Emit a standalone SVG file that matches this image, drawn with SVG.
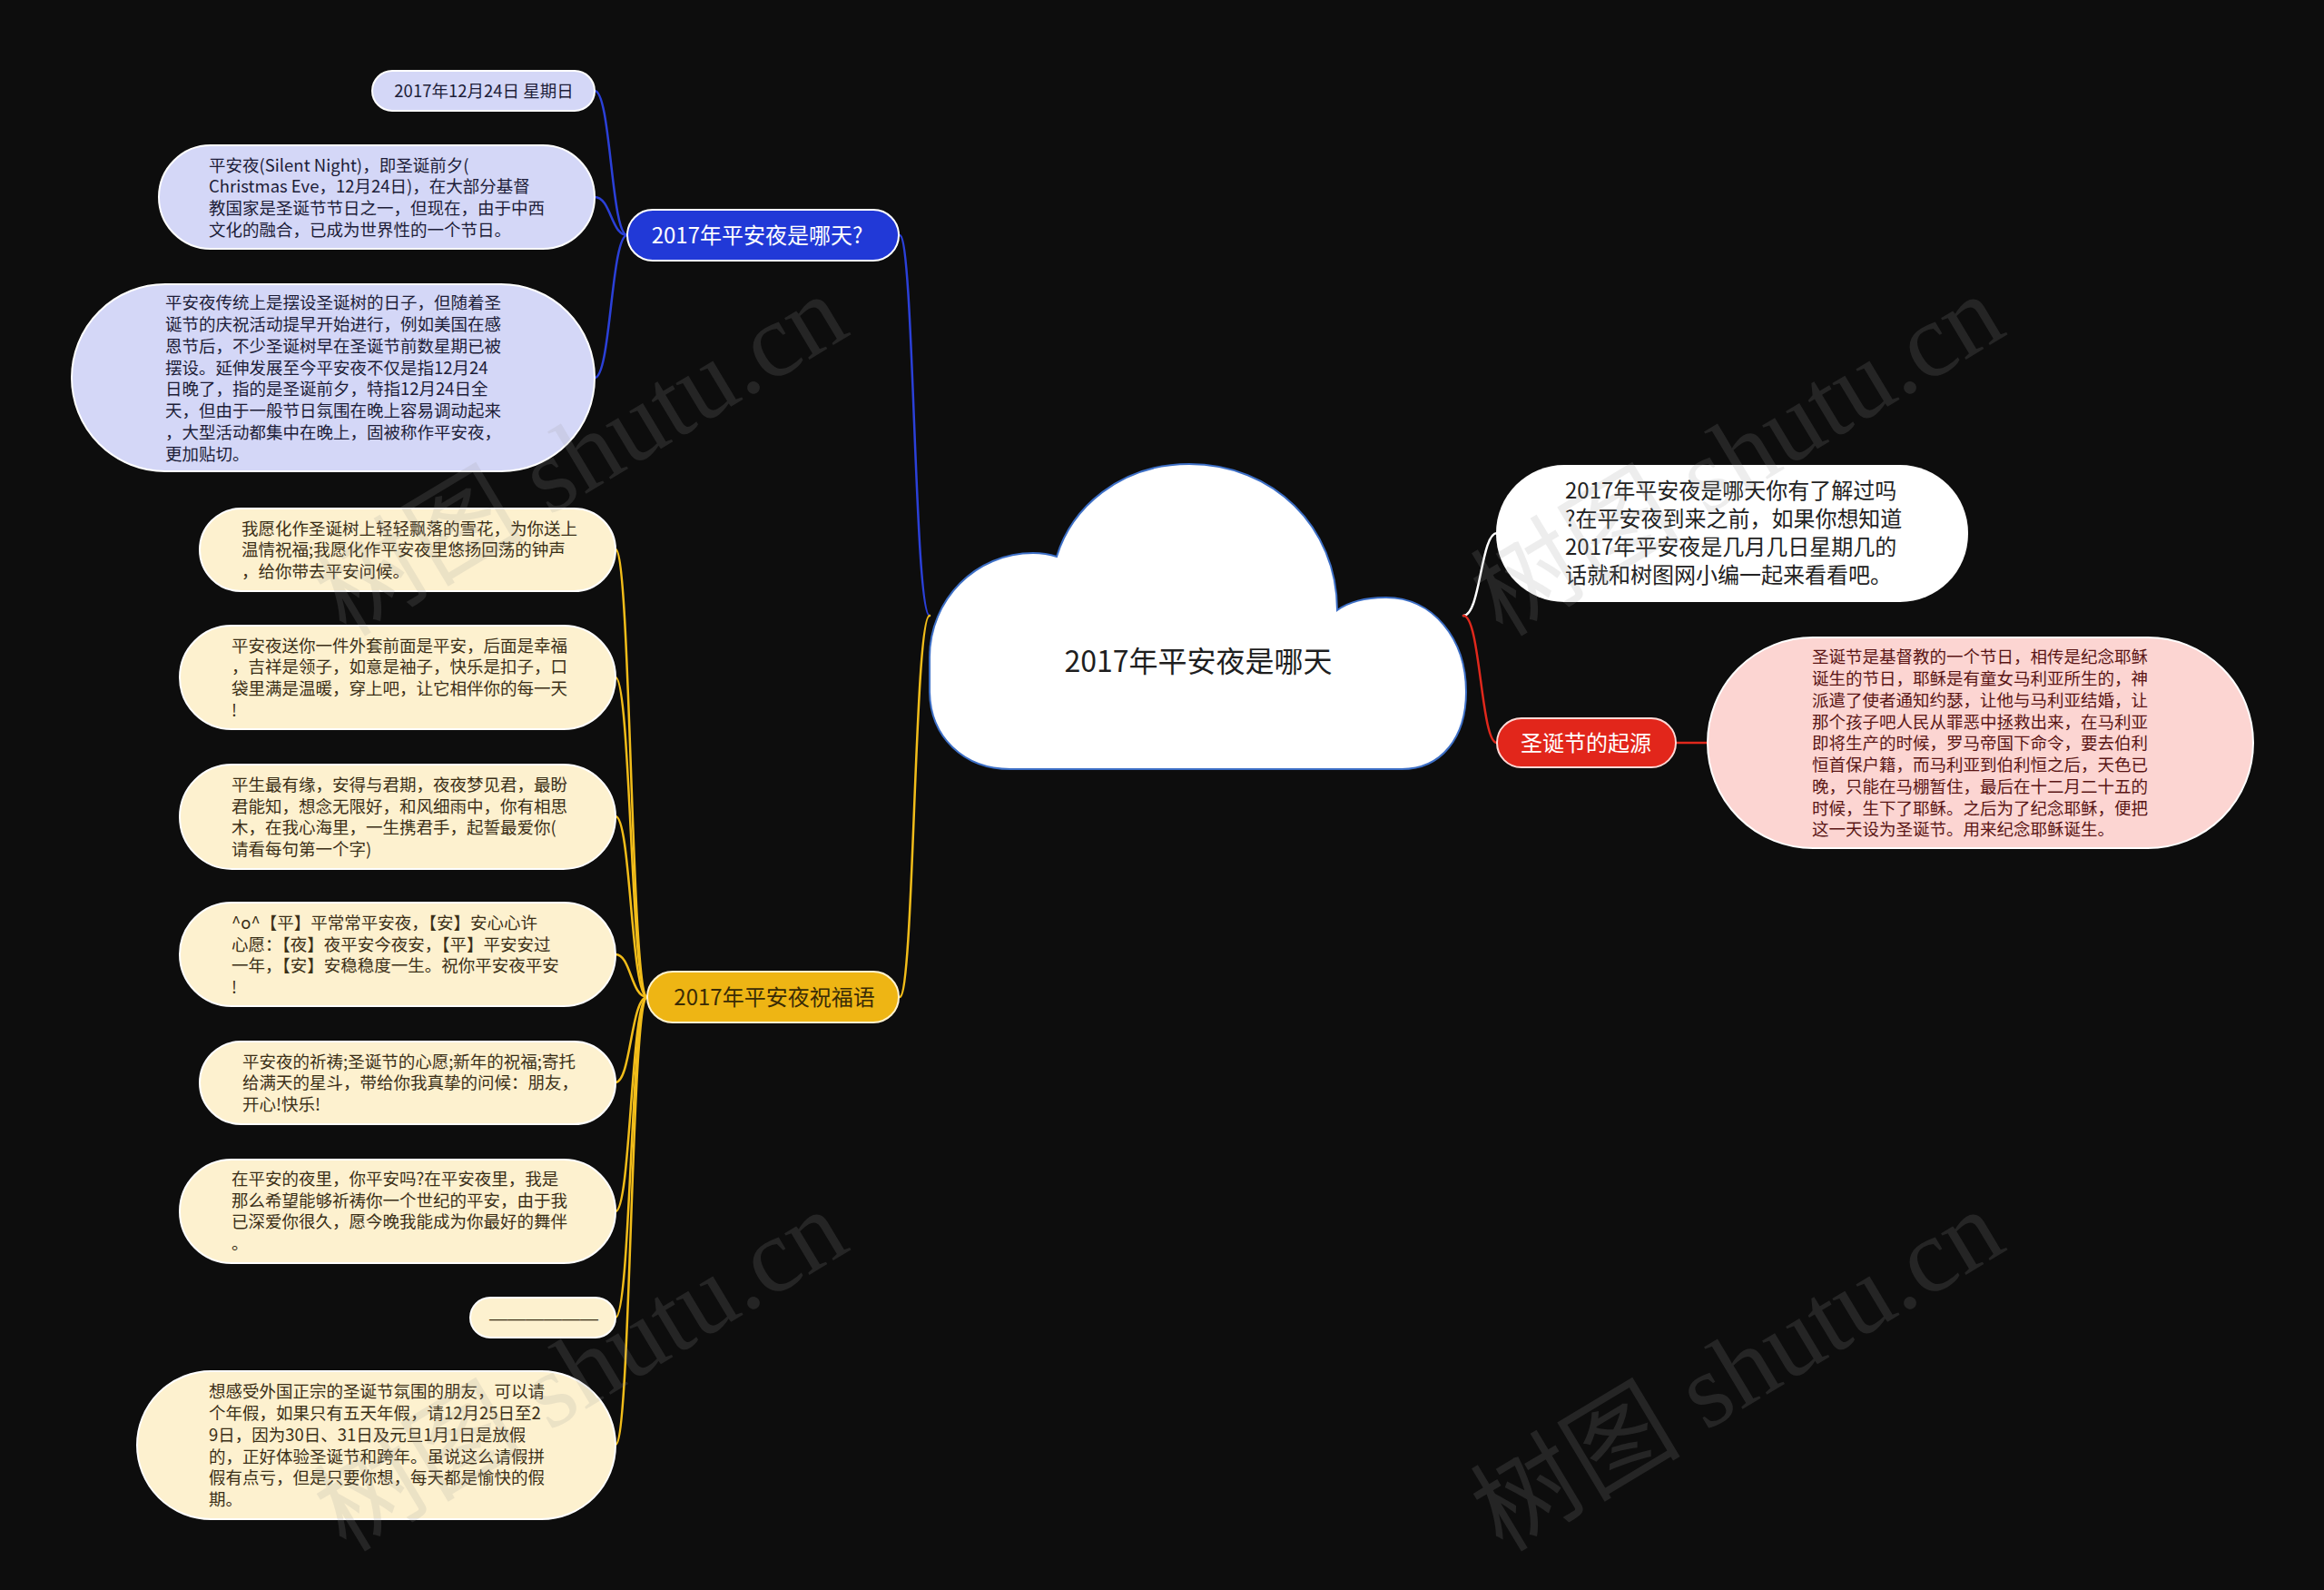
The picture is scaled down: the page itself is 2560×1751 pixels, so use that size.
<svg xmlns="http://www.w3.org/2000/svg" width="2560" height="1751" viewBox="0 0 2560 1751">
<style>
text{font-family:"Noto Sans CJK SC","Noto Sans",sans-serif;}
.s{font-size:18.5px;}
.dash{font-family:"Liberation Sans",sans-serif;}
.conn{fill:none;stroke-width:2.5;stroke-linecap:round;}
.cb{stroke:#2b40d8;}
.cy{stroke:#f2bd1a;}
.cw{stroke:#ffffff;}
.cr{stroke:#e0281c;}
.lav{fill:#d4d7f7;stroke:#ffffff;stroke-width:2;}
.lavt{fill:#1d1d38;}
.crm{fill:#fdf1cf;stroke:#ffffff;stroke-width:2;}
.crmt{fill:#3b2f17;}
.wm{font-family:"Liberation Serif","Noto Sans CJK SC",serif;font-size:116px;fill:#9a9a9a;opacity:0.17;}
</style>
<rect x="0" y="0" width="2560" height="1751" fill="#0d0d0d"/>

<g id="connectors">
<path class="conn cb" d="M1024,678 C1007,678 1007,259 991,259"/>
<path class="conn cy" d="M1024,678 C1007,678 1007,1098 991,1098"/>
<path class="conn cb" d="M691,259 C673,259 673,100 655,100"/>
<path class="conn cb" d="M691,259 C673,259 673,217 655,217"/>
<path class="conn cb" d="M691,259 C673,259 673,416 655,416"/>
<path class="conn cy" d="M713,1098 C695,1098 695,605 678,605"/>
<path class="conn cy" d="M713,1098 C695,1098 695,746 678,746"/>
<path class="conn cy" d="M713,1098 C695,1098 695,899 678,899"/>
<path class="conn cy" d="M713,1098 C695,1098 695,1051 678,1051"/>
<path class="conn cy" d="M713,1098 C695,1098 695,1192 678,1192"/>
<path class="conn cy" d="M713,1098 C695,1098 695,1334 678,1334"/>
<path class="conn cy" d="M713,1098 C695,1098 695,1451 678,1451"/>
<path class="conn cy" d="M713,1098 C695,1098 695,1591 678,1591"/>
<path class="conn cw" d="M1612,678 C1631,678 1631,587 1649,587"/>
<path class="conn cr" d="M1612,678 C1631,678 1631,818 1649,818"/>
<path class="conn cr" d="M1847,818 L1881,818"/>
</g>

<g id="root">
<path d="M1113,847 L1544,847 C1588,847 1615,812 1615,762 C1615,703 1578,658 1527,658 C1502,658 1484,664 1473,672 C1473,580 1402,511 1310,511 C1233,511 1180,560 1164,613 C1155,610 1146,609 1138,609 C1075,609 1024,660 1024,724 L1024,760 C1024,812 1062,847 1113,847 Z" fill="#ffffff" stroke="#3d6fc6" stroke-width="2"/>
<text x="1320" y="740" font-size="32" fill="#1e1e1e" text-anchor="middle">2017年平安夜是哪天</text>
</g>

<g id="main-blue">
<rect x="691" y="231" width="299" height="56" rx="28" fill="#2139d7" stroke="#ffffff" stroke-width="2"/>
<text x="834" y="268" font-size="24" fill="#ffffff" text-anchor="middle">2017年平安夜是哪天?</text>
</g>

<g id="main-yellow">
<rect x="713" y="1070" width="277" height="56" rx="28" fill="#eeb514" stroke="#fff3cf" stroke-width="2"/>
<text x="853" y="1107" font-size="24" fill="#3a2c06" text-anchor="middle">2017年平安夜祝福语</text>
</g>

<g id="main-red">
<rect x="1649" y="791" width="197" height="54" rx="27" fill="#e2261b" stroke="#ffd9d6" stroke-width="2"/>
<text x="1747" y="827" font-size="24" fill="#ffffff" text-anchor="middle">圣诞节的起源</text>
</g>

<g id="intro">
<rect x="1648" y="512" width="520" height="151" rx="75" fill="#ffffff"/>
<text x="1724" font-size="24" fill="#222222">
<tspan x="1724" y="549">2017年平安夜是哪天你有了解过吗</tspan>
<tspan x="1724" y="580">?在平安夜到来之前，如果你想知道</tspan>
<tspan x="1724" y="611">2017年平安夜是几月几日星期几的</tspan>
<tspan x="1724" y="642">话就和树图网小编一起来看看吧。</tspan>
</text>
</g>

<g id="origin-detail">
<rect x="1881" y="702" width="601" height="232" rx="116" fill="#fcd5d2" stroke="#ffffff" stroke-width="2"/>
<text class="s" fill="#5a1515">
<tspan x="1996" y="730">圣诞节是基督教的一个节日，相传是纪念耶稣</tspan>
<tspan x="1996" y="754">诞生的节日，耶稣是有童女马利亚所生的，神</tspan>
<tspan x="1996" y="778">派遣了使者通知约瑟，让他与马利亚结婚，让</tspan>
<tspan x="1996" y="802">那个孩子吧人民从罪恶中拯救出来，在马利亚</tspan>
<tspan x="1996" y="825">即将生产的时候，罗马帝国下命令，要去伯利</tspan>
<tspan x="1996" y="849">恒首保户籍，而马利亚到伯利恒之后，天色已</tspan>
<tspan x="1996" y="873">晚，只能在马棚暂住，最后在十二月二十五的</tspan>
<tspan x="1996" y="897">时候，生下了耶稣。之后为了纪念耶稣，便把</tspan>
<tspan x="1996" y="920">这一天设为圣诞节。用来纪念耶稣诞生。</tspan>
</text>
</g>

<g id="b1">
<rect class="lav" x="410" y="78" width="245" height="44" rx="22"/>
<text class="s lavt" x="533" y="107" text-anchor="middle">2017年12月24日 星期日</text>
</g>

<g id="b2">
<rect class="lav" x="175" y="160" width="480" height="114" rx="57"/>
<text class="s lavt">
<tspan x="230" y="189">平安夜(Silent Night)，即圣诞前夕(</tspan>
<tspan x="230" y="212">Christmas Eve，12月24日)，在大部分基督</tspan>
<tspan x="230" y="236">教国家是圣诞节节日之一，但现在，由于中西</tspan>
<tspan x="230" y="260">文化的融合，已成为世界性的一个节日。</tspan>
</text>
</g>

<g id="b3">
<rect class="lav" x="79" y="313" width="576" height="206" rx="103"/>
<text class="s lavt">
<tspan x="182" y="340">平安夜传统上是摆设圣诞树的日子，但随着圣</tspan>
<tspan x="182" y="364">诞节的庆祝活动提早开始进行，例如美国在感</tspan>
<tspan x="182" y="388">恩节后，不少圣诞树早在圣诞节前数星期已被</tspan>
<tspan x="182" y="412">摆设。延伸发展至今平安夜不仅是指12月24</tspan>
<tspan x="182" y="435">日晚了，指的是圣诞前夕，特指12月24日全</tspan>
<tspan x="182" y="459">天，但由于一般节日氛围在晚上容易调动起来</tspan>
<tspan x="182" y="483">，大型活动都集中在晚上，固被称作平安夜，</tspan>
<tspan x="182" y="507">更加贴切。</tspan>
</text>
</g>

<g id="y1">
<rect class="crm" x="220" y="560" width="458" height="91" rx="45.5"/>
<text class="s crmt">
<tspan x="266" y="589">我愿化作圣诞树上轻轻飘落的雪花，为你送上</tspan>
<tspan x="266" y="612">温情祝福;我愿化作平安夜里悠扬回荡的钟声</tspan>
<tspan x="266" y="636">，给你带去平安问候。</tspan>
</text>
</g>

<g id="y2">
<rect class="crm" x="198" y="689" width="480" height="114" rx="57"/>
<text class="s crmt">
<tspan x="255" y="718">平安夜送你一件外套前面是平安，后面是幸福</tspan>
<tspan x="255" y="741">，吉祥是领子，如意是袖子，快乐是扣子，口</tspan>
<tspan x="255" y="765">袋里满是温暖，穿上吧，让它相伴你的每一天</tspan>
<tspan x="255" y="789">!</tspan>
</text>
</g>

<g id="y3">
<rect class="crm" x="198" y="842" width="480" height="115" rx="57.5"/>
<text class="s crmt">
<tspan x="255" y="871">平生最有缘，安得与君期，夜夜梦见君，最盼</tspan>
<tspan x="255" y="895">君能知，想念无限好，和风细雨中，你有相思</tspan>
<tspan x="255" y="918">木，在我心海里，一生携君手，起誓最爱你(</tspan>
<tspan x="255" y="942">请看每句第一个字)</tspan>
</text>
</g>

<g id="y4">
<rect class="crm" x="198" y="994" width="480" height="114" rx="57"/>
<text class="s crmt">
<tspan x="255" y="1023">^o^【平】平常常平安夜，【安】安心心许</tspan>
<tspan x="255" y="1047">心愿：【夜】夜平安今夜安，【平】平安安过</tspan>
<tspan x="255" y="1070">一年，【安】安稳稳度一生。祝你平安夜平安</tspan>
<tspan x="255" y="1094">!</tspan>
</text>
</g>

<g id="y5">
<rect class="crm" x="220" y="1147" width="458" height="91" rx="45.5"/>
<text class="s crmt">
<tspan x="267" y="1176">平安夜的祈祷;圣诞节的心愿;新年的祝福;寄托</tspan>
<tspan x="267" y="1199">给满天的星斗，带给你我真挚的问候：朋友，</tspan>
<tspan x="267" y="1223">开心!快乐!</tspan>
</text>
</g>

<g id="y6">
<rect class="crm" x="198" y="1277" width="480" height="114" rx="57"/>
<text class="s crmt">
<tspan x="255" y="1305">在平安的夜里，你平安吗?在平安夜里，我是</tspan>
<tspan x="255" y="1329">那么希望能够祈祷你一个世纪的平安，由于我</tspan>
<tspan x="255" y="1352">已深爱你很久，愿今晚我能成为你最好的舞伴</tspan>
<tspan x="255" y="1376">。</tspan>
</text>
</g>

<g id="y7">
<rect class="crm" x="518" y="1429" width="160" height="44" rx="22"/>
<text class="s crmt dash" x="539" y="1458" textLength="120" lengthAdjust="spacingAndGlyphs">——————</text>
</g>

<g id="y8">
<rect class="crm" x="151" y="1510" width="527" height="163" rx="81.5"/>
<text class="s crmt">
<tspan x="230" y="1539">想感受外国正宗的圣诞节氛围的朋友，可以请</tspan>
<tspan x="230" y="1563">个年假，如果只有五天年假，请12月25日至2</tspan>
<tspan x="230" y="1587">9日，因为30日、31日及元旦1月1日是放假</tspan>
<tspan x="230" y="1611">的，正好体验圣诞节和跨年。虽说这么请假拼</tspan>
<tspan x="230" y="1634">假有点亏，但是只要你想，每天都是愉快的假</tspan>
<tspan x="230" y="1658">期。</tspan>
</text>
</g>

<g id="watermarks">
<text class="wm" text-anchor="middle" transform="translate(660,535) rotate(-31)">树图 shutu.cn</text>
<text class="wm" text-anchor="middle" transform="translate(1934,535) rotate(-31)">树图 shutu.cn</text>
<text class="wm" text-anchor="middle" transform="translate(660,1543) rotate(-31)">树图 shutu.cn</text>
<text class="wm" text-anchor="middle" transform="translate(1934,1543) rotate(-31)">树图 shutu.cn</text>
</g>
</svg>
